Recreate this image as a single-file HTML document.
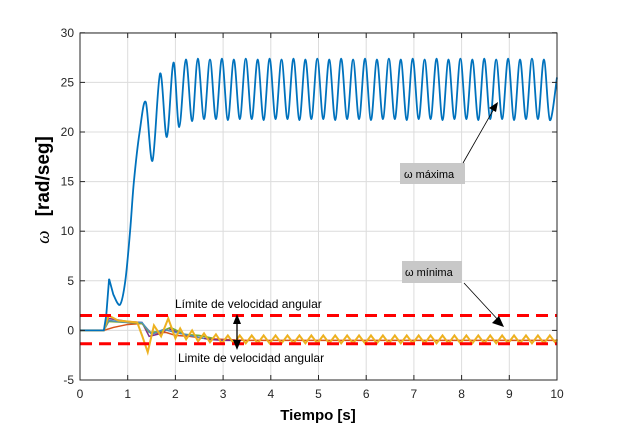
<!DOCTYPE html>
<html><head><meta charset="utf-8"><style>
body{margin:0;background:#fff;}
svg{display:block;font-family:"Liberation Sans",Arial,sans-serif;}
</style></head><body>
<svg id="chart" width="617" height="427" viewBox="0 0 617 427">
<rect x="0" y="0" width="617" height="427" fill="#fff"/>
<rect x="80" y="33" width="477" height="347" fill="#fff"/>
<g id="grid"></g>
<g id="series"></g>
<rect x="80" y="33" width="477" height="347" fill="none" stroke="#262626" stroke-width="1"/>
<g id="ticks"></g>
<text x="318" y="420" text-anchor="middle" font-size="15" font-weight="bold" fill="#000">Tiempo [s]</text>
<text transform="translate(49,190) rotate(-90)" text-anchor="middle" font-size="19" fill="#000"><tspan font-style="italic" font-family="Liberation Serif,serif">ω</tspan><tspan font-weight="bold" dx="14">[rad/seg]</tspan></text>
<g id="annot">
  <text x="175" y="308" font-size="12" fill="#000">Límite de velocidad angular</text>
  <text x="178" y="362" font-size="12" fill="#000">Limite de velocidad angular</text>
  <line x1="237" y1="322" x2="237" y2="342" stroke="#000" stroke-width="1.3"/>
  <polygon points="237,314 233,324 241,324" fill="#000"/>
  <polygon points="237,350 233,340 241,340" fill="#000"/>
  <rect x="400" y="163" width="65" height="21" fill="#c8c8c8"/>
  <text x="404" y="178" font-size="11" fill="#000">ω máxima</text>
  <line x1="463" y1="163" x2="495" y2="107" stroke="#000" stroke-width="0.8"/>
  <polygon points="498,102 489,108 496,112" fill="#000"/>
  <rect x="402" y="261" width="60" height="22" fill="#c8c8c8"/>
  <text x="405" y="276" font-size="11" fill="#000">ω mínima</text>
  <line x1="464" y1="283" x2="500" y2="322" stroke="#000" stroke-width="0.8"/>
  <polygon points="504,327 492,323 499,316" fill="#000"/>
</g>
</svg>
<script>
const xTicks=[0,1,2,3,4,5,6,7,8,9,10];
const yTicks=[-5,0,5,10,15,20,25,30];
const limitUpper=1.5;
const limitLower=-1.35;
const blueT=[0,0.5,0.55,0.61,0.7,0.84,0.95,1.05,1.13,1.25,1.38,1.52,1.68,1.82,1.96,2.08,2.22,2.35,2.47,2.6,2.725,2.85,2.975,3.1,3.225,3.35,3.475,3.6,3.725,3.85,3.975,4.1,4.225,4.35,4.475,4.6,4.725,4.85,4.975,5.1,5.225,5.35,5.475,5.6,5.725,5.85,5.975,6.1,6.225,6.35,6.475,6.6,6.725,6.85,6.975,7.1,7.225,7.35,7.475,7.6,7.725,7.85,7.975,8.1,8.225,8.35,8.475,8.6,8.725,8.85,8.975,9.1,9.225,9.35,9.475,9.6,9.725,9.85,10];
const blueV=[0,0,1.5,5.2,3.6,2.6,5,10,15,20,23,17.1,25.9,19.5,27,20.5,27.3,21.1,27.4,21.3,27.3,21.3,27.4,21.2,27.3,21.3,27.4,21.3,27.3,21.2,27.4,21.3,27.3,21.3,27.4,21.2,27.3,21.3,27.4,21.3,27.3,21.2,27.4,21.3,27.3,21.3,27.4,21.2,27.3,21.3,27.4,21.3,27.3,21.2,27.4,21.3,27.3,21.3,27.4,21.2,27.3,21.3,27.4,21.3,27.3,21.2,27.4,21.3,27.3,21.3,27.4,21.2,27.3,21.3,27.4,21.3,27.3,21.2,25.5];
const yellowT=[0,0.5,0.6,0.8,1.0,1.2,1.3,1.42,1.55,1.7,1.85,2.0,2.1,2.225,2.35,2.475,2.6,2.725,2.85,2.975,3.1,3.225,3.35,3.475,3.6,3.725,3.85,3.975,4.1,4.225,4.35,4.475,4.6,4.725,4.85,4.975,5.1,5.225,5.35,5.475,5.6,5.725,5.85,5.975,6.1,6.225,6.35,6.475,6.6,6.725,6.85,6.975,7.1,7.225,7.35,7.475,7.6,7.725,7.85,7.975,8.1,8.225,8.35,8.475,8.6,8.725,8.85,8.975,9.1,9.225,9.35,9.475,9.6,9.725,9.85,9.975,10];
const yellowV=[0,0,1.5,1.0,0.9,0.8,-0.5,-2.2,0.5,-0.6,1.2,-0.8,0.2,-0.9,0,-1.1,-0.3,-1.2,-0.4,-1.3,-0.5,-1.3,-0.5,-1.3,-0.5,-1.3,-0.5,-1.3,-0.5,-1.3,-0.5,-1.3,-0.5,-1.3,-0.5,-1.3,-0.5,-1.3,-0.5,-1.3,-0.5,-1.3,-0.5,-1.3,-0.5,-1.3,-0.5,-1.3,-0.5,-1.3,-0.5,-1.3,-0.5,-1.3,-0.5,-1.3,-0.5,-1.3,-0.5,-1.3,-0.5,-1.3,-0.5,-1.3,-0.5,-1.3,-0.5,-1.3,-0.5,-1.3,-0.5,-1.3,-0.5,-1.3,-0.5,-1.3,-0.9];
const orangeT=[0,0.5,0.7,1.0,1.3,1.5,1.8,2.0,2.3,2.6,3.0,3.5,4,5,6,7,8,9,10];
const orangeV=[0,0,0.3,0.6,0.7,-0.3,-0.2,-0.5,-0.6,-0.8,-0.9,-1.0,-1.0,-1.0,-1.0,-1.0,-1.0,-1.0,-1.0];
const purpleT=[0,0.5,0.6,1.0,1.3,1.45,1.7,1.85,2.1,2.4,2.7,3.0,3.3];
const purpleV=[0,0,1.2,0.9,0.8,-0.6,-0.3,0.2,-0.3,-0.6,-0.9,-1.0,-1.0];
const greenT=[0,0.5,0.6,1.0,1.3,1.45,1.7,1.9,2.2,2.5,2.8];
const greenV=[0,0,0.9,0.8,0.7,-0.2,-0.1,0.3,-0.4,-0.5,-0.8];
const lblueT=[0,0.5,0.6,1.0,1.3,1.5,1.75,2.0,2.3,2.6];
const lblueV=[0,0,1.0,0.8,0.8,-0.4,0.1,-0.2,-0.5,-0.8];

const X=t=>80+t*47.7;
const Y=v=>330.4-v*9.92;
const NS="http://www.w3.org/2000/svg";
const grid=document.getElementById('grid'),ticks=document.getElementById('ticks'),series=document.getElementById('series');
function mk(tag,attrs,parent){const e=document.createElementNS(NS,tag);for(const k in attrs)e.setAttribute(k,attrs[k]);parent.appendChild(e);return e;}
xTicks.forEach(t=>{
  const g=mk('line',{x1:X(t),x2:X(t),y1:33,y2:380,stroke:'#dcdcdc','stroke-width':1},grid);
  
  
  const tk=mk('line',{x1:X(t),x2:X(t),y1:375,y2:380,stroke:'#262626'},ticks);
  
  
  const tk2=mk('line',{x1:X(t),x2:X(t),y1:33,y2:38,stroke:'#262626'},ticks);
  
  
  const l=mk('text',{x:X(t),y:398,'text-anchor':'middle','font-size':12,fill:'#262626'},ticks);
  l.textContent=t;
  
  
});
yTicks.forEach(v=>{
  const g=mk('line',{x1:80,x2:557,y1:Y(v),y2:Y(v),stroke:'#dcdcdc','stroke-width':1},grid);
  
  
  const tk=mk('line',{x1:80,x2:85,y1:Y(v),y2:Y(v),stroke:'#262626'},ticks);
  
  
  const tk2=mk('line',{x1:552,x2:557,y1:Y(v),y2:Y(v),stroke:'#262626'},ticks);
  
  
  const l=mk('text',{x:74,y:Y(v)+4,'text-anchor':'end','font-size':12,fill:'#262626'},ticks);
  l.textContent=v;
  
  
});
function smooth(T,V,linearUntil){
  const p=T.map((t,i)=>[X(t),Y(V[i])]);
  let d='M'+p[0][0]+','+p[0][1];
  for(let i=0;i<p.length-1;i++){
    const p1=p[i],p2=p[i+1];
    if(T[i+1]<=linearUntil){d+=' L'+p2[0]+','+p2[1];continue;}
    const p0=(i>0&&T[i]>linearUntil)?p[i-1]:p[i],p3=p[i+2]||p2;
    const c1=[p1[0]+(p2[0]-p0[0])/6,p1[1]+(p2[1]-p0[1])/6];
    const c2=[p2[0]-(p3[0]-p1[0])/6,p2[1]-(p3[1]-p1[1])/6];
    d+=' C'+c1[0]+','+c1[1]+' '+c2[0]+','+c2[1]+' '+p2[0]+','+p2[1];
  }
  return d;
}
function poly(T,V){return T.map((t,i)=>(i?'L':'M')+X(t)+','+Y(V[i])).join(' ');}
const o=mk('path',{d:poly(orangeT,orangeV),fill:'none',stroke:'#D95319','stroke-width':1.5},series);


const pu=mk('path',{d:poly(purpleT,purpleV),fill:'none',stroke:'#7E2F8E','stroke-width':1.5},series);


const gr=mk('path',{d:poly(greenT,greenV),fill:'none',stroke:'#77AC30','stroke-width':1.5},series);


const lb=mk('path',{d:poly(lblueT,lblueV),fill:'none',stroke:'#4D8FBE','stroke-width':1.5},series);


const ye=mk('path',{d:poly(yellowT,yellowV),fill:'none',stroke:'#EDB120','stroke-width':2},series);


const bl=mk('path',{d:smooth(blueT,blueV,0.7),fill:'none',stroke:'#0072BD','stroke-width':1.8},series);


[limitUpper,limitLower].forEach(v=>{
  const l=mk('line',{x1:80,x2:557,y1:Y(v),y2:Y(v),stroke:'#FF0000','stroke-width':3,'stroke-dasharray':'12,7'},series);
  
  
});
</script>
</body></html>
